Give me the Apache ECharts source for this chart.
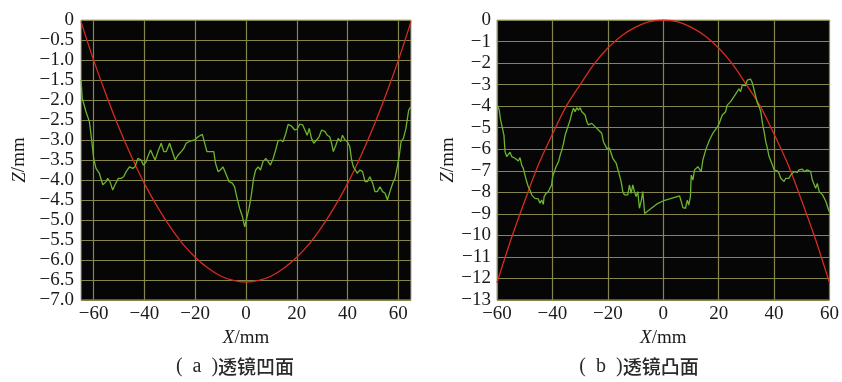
<!DOCTYPE html>
<html>
<head>
<meta charset="utf-8">
<style>
    html, body { margin: 0; padding: 0; background: #fff; }
    #chart { width: 842px; height: 382px; }
</style>
<script src="https://cdn.jsdelivr.net/npm/echarts@6/dist/echarts.min.js"></script>
</head>
<body>
<div id="chart"></div>
<script>
    // (a) 透镜凹面 —— 实测曲线
    var concaveMeasX = [-65.0, -64.5, -63.0, -61.7, -60.8, -60.0, -59.1, -57.8, -56.4, -55.1, -54.5, -53.6, -52.5, -51.6, -50.3, -49.2, -48.2, -47.2, -45.9, -44.6,
        -43.7, -42.6, -41.3, -40.4, -39.3, -38.7, -37.6, -36.7, -35.8, -34.7, -33.4, -32.4, -31.4, -30.1, -28.8, -27.9, -26.8, -25.5, -24.5, -23.6,
        -22.2, -20.2, -18.9, -17.2, -16.3, -15.4, -14.1, -12.7, -12.0, -11.0, -10.1, -9.1, -8.0, -6.7, -5.4, -4.5, -3.5, -2.5, -1.4, -0.5,
        0.1, 1.2, 2.1, 3.0, 3.8, 4.8, 5.7, 6.7, 7.8, 8.7, 9.6, 10.7, 11.7, 12.6, 13.6, 14.6, 15.7, 16.6, 17.9, 19.2,
        20.1, 21.2, 22.3, 23.2, 24.1, 24.9, 25.8, 26.7, 27.8, 28.8, 29.8, 31.1, 32.0, 33.0, 33.7, 34.4, 35.4, 36.3, 37.3, 38.0,
        39.0, 39.9, 40.9, 41.6, 42.3, 42.9, 43.8, 44.9, 45.9, 46.9, 47.8, 48.8, 49.9, 50.8, 51.7, 52.8, 53.8, 54.8, 55.7, 56.7,
        57.8, 58.7, 59.6, 60.4, 61.1, 62.0, 63.0, 63.6, 64.1, 64.9];
    var concaveMeasZ = [-1.5, -1.96, -2.3, -2.54, -3.0, -3.46, -3.71, -3.83, -4.12, -4.04, -3.96, -4.04, -4.25, -4.12, -3.96, -3.96, -3.92, -3.79, -3.67, -3.71,
        -3.67, -3.46, -3.5, -3.63, -3.54, -3.42, -3.25, -3.38, -3.5, -3.29, -3.08, -3.29, -3.29, -3.08, -3.33, -3.5, -3.38, -3.29, -3.21, -3.08,
        -3.03, -3.0, -2.92, -2.86, -3.08, -3.29, -3.29, -3.29, -3.58, -3.79, -3.75, -3.67, -3.83, -4.04, -4.08, -4.17, -4.46, -4.71, -4.92, -5.17,
        -5.0, -4.71, -4.38, -3.96, -3.75, -3.67, -3.75, -3.54, -3.46, -3.54, -3.63, -3.46, -3.25, -3.03, -3.0, -3.04, -2.83, -2.61, -2.65, -2.75,
        -2.73, -2.6, -2.62, -2.75, -2.88, -2.71, -2.96, -3.08, -3.0, -2.92, -2.75, -2.79, -2.88, -2.92, -3.08, -3.29, -3.13, -2.96, -3.04, -2.88,
        -3.0, -3.04, -3.17, -3.5, -3.67, -3.71, -3.83, -3.75, -3.79, -4.04, -4.04, -3.92, -4.08, -4.29, -4.29, -4.17, -4.29, -4.33, -4.5, -4.29,
        -4.08, -3.96, -3.67, -3.38, -3.04, -2.96, -2.71, -2.46, -2.25, -2.17];
    // (a) 理论曲线
    var concaveFitX = [-65, -60, -55, -50, -45, -40, -35, -30, -25, -20, -15, -10, -5, 0, 5, 10, 15, 20, 25, 30, 35, 40, 45, 50, 55, 60, 65];
    var concaveFitZ = [-0.04, -1.01, -1.89, -2.70, -3.43, -4.09, -4.66, -5.16, -5.59, -5.93, -6.20, -6.40, -6.51, -6.55,
        -6.51, -6.40, -6.20, -5.93, -5.59, -5.16, -4.66, -4.09, -3.43, -2.70, -1.89, -1.01, -0.04];

    // (b) 透镜凸面 —— 实测曲线
    var convexMeasX = [-59.9, -59.2, -58.7, -58.0, -57.5, -57.1, -56.5, -55.9, -55.3, -54.7, -54.1, -53.5, -52.9, -52.3, -51.7, -51.1, -50.5, -49.9, -49.3, -48.7,
        -48.1, -47.5, -46.9, -46.3, -45.7, -45.1, -44.5, -43.9, -43.3, -43.0, -42.3, -41.5, -40.9, -40.3, -39.9, -39.3, -38.7, -37.8, -37.2, -36.6,
        -36.0, -35.4, -34.8, -34.2, -33.6, -33.0, -32.4, -31.8, -31.2, -30.6, -30.0, -29.4, -28.8, -28.2, -27.6, -27.0, -26.4, -25.8, -25.2, -24.6,
        -24.0, -23.4, -22.8, -22.2, -21.6, -21.0, -20.4, -19.4, -18.8, -18.2, -17.6, -17.0, -16.4, -15.8, -15.2, -14.6, -14.0, -13.4, -12.8, -12.2,
        -11.6, -11.0, -10.4, -9.8, -9.2, -8.6, -7.9, -7.4, -6.7, -4.3, -1.9, 0.5, 2.9, 5.9, 6.5, 7.1, 8.0, 8.7, 9.2, 9.8,
        10.1, 10.7, 11.3, 11.9, 12.5, 13.1, 13.7, 14.3, 14.9, 15.5, 16.1, 16.7, 17.3, 17.9, 18.5, 19.1, 19.7, 20.1, 20.7, 21.3,
        21.9, 22.5, 23.1, 23.7, 24.3, 24.9, 25.5, 26.1, 26.7, 27.3, 27.9, 28.5, 29.1, 29.7, 30.3, 30.9, 31.5, 32.2, 32.8, 33.4,
        34.0, 34.6, 35.2, 35.8, 36.4, 37.0, 37.6, 38.2, 38.8, 39.4, 40.0, 40.6, 41.2, 41.8, 42.4, 43.0, 43.6, 44.2, 44.8, 45.4,
        46.0, 46.6, 47.2, 47.8, 48.4, 49.0, 49.6, 50.2, 50.8, 51.4, 52.0, 52.6, 53.2, 53.8, 54.4, 55.0, 55.6, 56.3, 56.9, 57.5,
        58.1, 58.7, 59.3, 59.9];
    var convexMeasZ = [-3.95, -4.18, -4.64, -4.69, -5.34, -6.11, -6.34, -6.27, -6.14, -6.34, -6.27, -6.42, -6.34, -6.55, -6.39, -6.73, -6.89, -7.2, -7.5, -7.74,
        -7.89, -8.12, -8.2, -8.28, -8.36, -8.31, -8.51, -8.36, -8.56, -8.2, -8.05, -7.97, -7.81, -7.66, -7.27, -7.2, -6.81, -6.58, -6.27, -6.04,
        -5.73, -5.34, -5.11, -4.87, -4.64, -4.33, -4.1, -4.26, -4.07, -4.18, -4.07, -4.26, -4.18, -4.41, -4.72, -4.87, -4.95, -4.8, -4.72, -4.95,
        -4.87, -5.11, -5.03, -5.26, -5.65, -5.73, -5.96, -5.95, -6.19, -6.42, -6.5, -6.65, -6.73, -7.2, -7.5, -7.97, -8.12, -8.05, -8.12, -7.66,
        -8.05, -7.66, -7.97, -8.2, -7.97, -8.74, -8.36, -7.97, -8.98, -8.74, -8.51, -8.37, -8.28, -8.17, -8.43, -8.71, -8.74, -8.36, -8.59, -8.2,
        -7.2, -7.43, -6.96, -7.04, -6.81, -6.89, -7.04, -6.5, -6.42, -5.96, -5.88, -5.57, -5.49, -5.26, -5.15, -5.05, -5.1, -4.84, -4.9, -4.41,
        -4.33, -4.26, -3.95, -4.02, -3.79, -3.87, -3.56, -3.64, -3.33, -3.2, -3.33, -3.02, -2.94, -3.05, -2.79, -2.86, -2.74, -2.94, -3.25, -3.33,
        -3.87, -4.02, -4.26, -4.8, -5.18, -5.65, -5.96, -6.34, -6.42, -6.73, -6.96, -7.04, -7.01, -7.12, -7.35, -7.27, -7.5, -7.35, -7.27, -7.35,
        -7.2, -7.24, -7.04, -7.01, -7.07, -6.96, -7.04, -6.92, -7.04, -6.96, -6.96, -7.04, -7.04, -7.43, -7.5, -7.81, -7.59, -7.97, -7.89, -8.12,
        -8.2, -8.43, -8.67, -8.9];
    // (b) 理论曲线
    var convexFitX = [-60, -55, -50, -45, -40, -35, -30, -25, -20, -15, -10, -5, 0, 5, 10, 15, 20, 25, 30, 35, 40, 45, 50, 55, 60];
    var convexFitZ = [-12.2, -10.2, -8.4, -6.7, -5.3, -4.0, -3.0, -2.05, -1.3, -0.73, -0.33, -0.08, 0,
        -0.08, -0.33, -0.73, -1.3, -2.05, -3.0, -4.0, -5.3, -6.7, -8.4, -10.2, -12.2];

    var xTickLabels = [-60, -40, -20, 0, 20, 40, 60];

    function pairs(xs, zs) {
        return xs.map(function(x, i) { return [x, zs[i]]; });
    }
    function minus(v, digits) {
        if (v === 0) return '0';
        return (v < 0 ? '\u2212' : '') + Math.abs(v).toFixed(digits);
    }

    var gridColor = '#85854d';
    var serif = 'Liberation Serif';
    var labelStyle = { color: '#1a1a1a', fontFamily: serif, fontSize: 19 };
    var nameRich = { i: { fontStyle: 'italic', fontFamily: serif, fontSize: 19, color: '#1a1a1a' } };
    var captionRich = { s: { fontFamily: serif, fontSize: 20, fill: '#2a2a2a' } };

    var myChart = echarts.init(document.getElementById('chart'));
    var option = {
        backgroundColor: '#fff',
        animation: false,
        grid: [
            { left: 81, top: 20, width: 330, height: 280, show: true, backgroundColor: '#060606', borderColor: '#a9a994', borderWidth: 1 },
            { left: 497, top: 20, width: 334, height: 280, show: true, backgroundColor: '#060606', borderColor: '#a9a994', borderWidth: 1 }
        ],
        xAxis: [{
            gridIndex: 0, type: 'value', min: -65, max: 65, interval: 5,
            axisLine: { show: false }, axisTick: { show: false },
            axisLabel: Object.assign({ margin: 5, formatter: function(v) {
                return xTickLabels.indexOf(v) >= 0 ? minus(v, 0) : '';
            } }, labelStyle),
            // 只在 ±60、±40、±20、0 处画竖线
            splitLine: { show: true, lineStyle: { color: ['transparent', gridColor, 'transparent', 'transparent'], width: 1.2 } },
            name: '{i|X}/mm', nameLocation: 'middle', nameGap: 25,
            nameTextStyle: Object.assign({ rich: nameRich }, labelStyle)
        }, {
            gridIndex: 1, type: 'value', min: -60, max: 60, interval: 20,
            axisLine: { show: false }, axisTick: { show: false },
            axisLabel: Object.assign({ margin: 5, formatter: function(v) { return minus(v, 0); } }, labelStyle),
            splitLine: { show: true, lineStyle: { color: gridColor, width: 1.2 } },
            name: '{i|X}/mm', nameLocation: 'middle', nameGap: 25,
            nameTextStyle: Object.assign({ rich: nameRich }, labelStyle)
        }],
        yAxis: [{
            gridIndex: 0, type: 'value', min: -7, max: 0, interval: 0.5,
            axisLine: { show: false }, axisTick: { show: false },
            axisLabel: Object.assign({ margin: 7, formatter: function(v) { return minus(v, 1); } }, labelStyle),
            splitLine: { show: true, lineStyle: { color: gridColor, width: 1.2 } },
            name: '{i|Z}/mm', nameLocation: 'middle', nameGap: 52,
            nameTextStyle: Object.assign({ rich: nameRich }, labelStyle)
        }, {
            gridIndex: 1, type: 'value', min: -13, max: 0, interval: 1,
            axisLine: { show: false }, axisTick: { show: false },
            axisLabel: Object.assign({ margin: 6, formatter: function(v) { return minus(v, 0); } }, labelStyle),
            splitLine: { show: true, lineStyle: { color: gridColor, width: 1.2 } },
            name: '{i|Z}/mm', nameLocation: 'middle', nameGap: 36,
            nameTextStyle: Object.assign({ rich: nameRich }, labelStyle)
        }],
        series: [{
            type: 'line', xAxisIndex: 0, yAxisIndex: 0, showSymbol: false, smooth: 0.3,
            data: pairs(concaveFitX, concaveFitZ), lineStyle: { color: '#d62b20', width: 1.3 }, z: 3
        }, {
            type: 'line', xAxisIndex: 0, yAxisIndex: 0, showSymbol: false,
            data: pairs(concaveMeasX, concaveMeasZ), lineStyle: { color: '#6cb52f', width: 1.3 }, z: 4
        }, {
            type: 'line', xAxisIndex: 1, yAxisIndex: 1, showSymbol: false, smooth: 0.3,
            data: pairs(convexFitX, convexFitZ), lineStyle: { color: '#d62b20', width: 1.3 }, z: 3
        }, {
            type: 'line', xAxisIndex: 1, yAxisIndex: 1, showSymbol: false,
            data: pairs(convexMeasX, convexMeasZ), lineStyle: { color: '#6cb52f', width: 1.3 }, z: 4
        }],
        graphic: [{
            type: 'text', x: 235, y: 367,
            style: { text: '{s|(\u2002a\u2002)}透镜凹面', align: 'center', verticalAlign: 'middle', fill: '#2a2a2a',
                font: '500 19px "Noto Sans CJK SC"', rich: captionRich }
        }, {
            type: 'text', x: 639, y: 367,
            style: { text: '{s|(\u2002b\u2002)}透镜凸面', align: 'center', verticalAlign: 'middle', fill: '#2a2a2a',
                font: '500 19px "Noto Sans CJK SC"', rich: captionRich }
        }]
    };
    myChart.setOption(option);
</script>
</body>
</html>
